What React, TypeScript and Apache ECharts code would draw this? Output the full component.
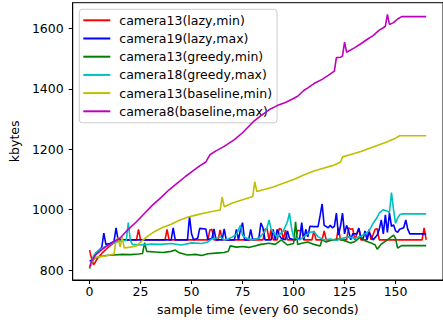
import { useEffect, useRef } from "react";
import * as echarts from "echarts";

const xTicks = [0, 25, 50, 75, 100, 125, 150];
const yTicks = [800, 1000, 1200, 1400, 1600];

const seriesNames = [
  "camera13(lazy,min)",
  "camera19(lazy,max)",
  "camera13(greedy,min)",
  "camera18(greedy,max)",
  "camera13(baseline,min)",
  "camera8(baseline,max)",
];
const seriesColors = ["#ff0000", "#0000ff", "#008000", "#00bfbf", "#bfbf00", "#bf00bf"];

const lazyMin = [
  [0, 866], [1, 838], [2, 817], [4, 840], [6, 855], [8, 868], [10, 880], [12, 890], [14, 897], [16, 900],
  [23, 900], [24, 935], [25, 900], [37, 900], [38, 935], [39, 900], [58, 900], [59, 933], [60, 935], [61, 900],
  [63, 900], [64, 933], [65, 900], [85, 900], [86, 935], [87, 937], [88, 900], [89, 935], [90, 900], [92, 900],
  [93, 938], [94, 935], [95, 900], [96, 932], [97, 900], [101, 900], [102, 932], [103, 930], [104, 935], [105, 900],
  [109, 900], [110, 930], [111, 900], [114, 900], [115, 930], [116, 900], [121, 900], [122, 940], [123, 900],
  [126, 900], [127, 940], [128, 935], [129, 937], [130, 900], [132, 938], [133, 900], [136, 900], [137, 935],
  [138, 900], [140, 935], [141, 937], [142, 900], [163, 900], [164, 940], [165, 900],
];

const lazyMax = [
  [0, 830], [1, 832], [2, 840], [3, 855], [5, 868], [6, 875], [7, 922], [8, 885], [10, 888], [12, 895], [13, 940],
  [14, 900], [40, 900], [41, 940], [42, 900], [48, 900], [49, 977], [50, 920], [51, 900], [53, 905], [54, 938],
  [57, 936], [58, 900], [60, 905], [61, 936], [62, 900], [65, 900], [66, 936], [67, 900], [71, 900], [72, 935],
  [73, 900], [74, 935], [75, 957], [76, 900], [78, 900], [79, 935], [80, 900], [83, 905], [84, 956], [85, 940],
  [86, 900], [89, 900], [90, 935], [91, 900], [92, 935], [93, 915], [94, 905], [96, 900], [97, 930], [98, 905],
  [100, 900], [103, 905], [104, 957], [105, 900], [106, 935], [107, 910], [108, 945], [110, 944], [112, 944],
  [113, 980], [114, 1019], [115, 948], [117, 940], [118, 948], [119, 940], [120, 945], [121, 989], [122, 916],
  [123, 945], [124, 989], [125, 920], [126, 948], [127, 930], [128, 900], [129, 920], [131, 920], [132, 939],
  [133, 910], [134, 900], [135, 930], [136, 900], [137, 925], [139, 900], [141, 916], [142, 935], [143, 966],
  [144, 920], [145, 983], [146, 925], [147, 989], [148, 945], [149, 950], [150, 930], [151, 925], [152, 935],
  [154, 940], [155, 966], [156, 935], [157, 920], [165, 920],
];

const greedyMin = [
  [0, 805], [1, 825], [2, 835], [3, 840], [5, 845], [8, 848], [12, 850], [16, 852], [20, 851], [24, 853],
  [26, 855], [27, 891], [28, 862], [32, 860], [36, 858], [40, 862], [42, 866], [44, 857], [48, 850], [52, 852],
  [55, 848], [58, 854], [62, 856], [66, 858], [68, 862], [69, 880], [72, 876], [75, 878], [78, 875], [81, 880],
  [84, 885], [88, 889], [91, 885], [94, 900], [97, 883], [100, 888], [101, 960], [102, 885], [104, 889],
  [107, 893], [110, 885], [113, 880], [114, 900], [116, 893], [119, 900], [122, 903], [125, 897], [128, 890],
  [130, 894], [133, 911], [135, 897], [138, 890], [140, 883], [141, 869], [143, 886], [146, 900], [149, 916],
  [150, 905], [151, 873], [153, 881], [165, 881],
];

const greedyMax = [
  [0, 805], [1, 830], [2, 848], [4, 862], [6, 872], [8, 878], [10, 884], [12, 890], [14, 895], [16, 897],
  [18, 898], [19, 957], [20, 898], [21, 885], [25, 883], [30, 886], [35, 885], [40, 888], [45, 883], [50, 890],
  [55, 888], [58, 893], [60, 903], [62, 905], [64, 910], [66, 900], [68, 903], [70, 910], [72, 918], [74, 949],
  [75, 915], [77, 905], [80, 900], [83, 905], [85, 920], [87, 940], [88, 966], [89, 935], [90, 925], [92, 910],
  [95, 930], [97, 960], [98, 989], [99, 940], [100, 910], [103, 900], [106, 915], [108, 925], [110, 927],
  [112, 910], [115, 900], [118, 903], [121, 898], [124, 905], [127, 910], [130, 905], [133, 912], [135, 920],
  [137, 930], [139, 955], [141, 975], [142, 989], [144, 1000], [146, 995], [147, 990], [148, 1057], [149, 1000],
  [150, 955], [151, 972], [152, 983], [153, 986], [165, 986],
];

const baselineMin = [
  [0, 805], [1, 825], [2, 838], [4, 843], [7, 846], [10, 850], [12, 853], [13, 900], [14, 906], [15, 877],
  [16, 909], [17, 873], [20, 876], [23, 880], [26, 898], [29, 915], [32, 928], [36, 942], [40, 952], [44, 965],
  [48, 975], [52, 982], [56, 988], [60, 994], [64, 999], [65, 1042], [66, 1010], [70, 1022], [75, 1033],
  [80, 1044], [81, 1093], [82, 1060], [86, 1068], [90, 1075], [95, 1088], [100, 1100], [105, 1115], [110, 1128],
  [115, 1138], [119, 1146], [123, 1157], [124, 1175], [128, 1183], [133, 1193], [138, 1205], [142, 1215],
  [146, 1225], [150, 1237], [152, 1245], [165, 1245],
];

const baselineMax = [
  [0, 808], [1, 830], [3, 850], [5, 862], [8, 878], [11, 890], [15, 906], [19, 935], [23, 960], [27, 988],
  [31, 1016], [35, 1040], [39, 1066], [43, 1088], [47, 1110], [51, 1130], [54, 1145], [57, 1158], [58, 1170],
  [59, 1182], [62, 1195], [66, 1210], [71, 1232], [75, 1255], [80, 1290], [84, 1312], [88, 1331], [92, 1345],
  [96, 1355], [99, 1365], [102, 1376], [105, 1395], [107, 1404], [110, 1418], [114, 1432], [117, 1445],
  [120, 1459], [121, 1504], [123, 1505], [124, 1510], [125, 1555], [126, 1522], [130, 1537], [133, 1550],
  [136, 1564], [139, 1577], [142, 1595], [144, 1603], [145, 1608], [146, 1647], [147, 1614], [149, 1620],
  [151, 1632], [153, 1640], [165, 1640],
];

const allData = [lazyMin, lazyMax, greedyMin, greedyMax, baselineMin, baselineMax];

const FONT = "DejaVu Sans";
const FS = 12.5;

export default function App() {
  const ref = useRef<HTMLDivElement>(null);
  useEffect(() => {
    const chart = echarts.init(ref.current!, null, { renderer: "svg" });
    chart.setOption({
      animation: false,
      backgroundColor: "#ffffff",
      grid: {
        left: 72.7,
        top: 2.7,
        width: 372.3,
        height: 277.3,
        show: true,
        borderColor: "#000000",
        borderWidth: 1,
        containLabel: false,
      },
      legend: {
        orient: "vertical",
        left: 79.3,
        top: 9.3,
        icon: "rect",
        itemWidth: 27,
        itemHeight: 2,
        itemGap: 3.2,
        padding: [3.5, 5, 4, 4],
        backgroundColor: "rgba(255,255,255,0.8)",
        borderColor: "#cccccc",
        borderWidth: 1,
        borderRadius: 3,
        textStyle: {
          fontFamily: FONT,
          fontSize: FS,
          color: "#000000",
          lineHeight: 15,
          padding: [0, 0, 0, 4],
        },
        data: seriesNames,
      },
      xAxis: {
        type: "value",
        min: -8.25,
        max: 173.25,
        name: "sample time (every 60 seconds)",
        nameLocation: "middle",
        nameGap: 22,
        nameTextStyle: { fontFamily: FONT, fontSize: FS, color: "#000000" },
        axisLine: { show: true, onZero: false, lineStyle: { color: "#000000", width: 1 } },
        axisTick: { show: true, length: 4, customValues: xTicks, lineStyle: { color: "#000000" } },
        axisLabel: {
          customValues: xTicks,
          margin: 5,
          fontFamily: FONT,
          fontSize: FS,
          color: "#000000",
          formatter: (v: number) => String(v),
        },
        splitLine: { show: false },
      },
      yAxis: {
        type: "value",
        min: 767,
        max: 1686,
        name: "kbytes",
        nameLocation: "middle",
        nameGap: 42,
        nameTextStyle: { fontFamily: FONT, fontSize: FS, color: "#000000" },
        axisLine: { show: true, onZero: false, lineStyle: { color: "#000000", width: 1 } },
        axisTick: { show: true, length: 4, customValues: yTicks, lineStyle: { color: "#000000" } },
        axisLabel: {
          customValues: yTicks,
          margin: 9,
          fontFamily: FONT,
          fontSize: FS,
          color: "#000000",
          formatter: (v: number) => String(v),
        },
        splitLine: { show: false },
      },
      series: allData.map((d, i) => ({
        type: "line",
        name: seriesNames[i],
        data: d,
        symbol: "none",
        z: 2 + i,
        lineStyle: { color: seriesColors[i], width: 1.6 },
        itemStyle: { color: seriesColors[i] },
      })),
    });
    return () => chart.dispose();
  }, []);
  return (
    <div
      ref={ref}
      style={{ position: "absolute", left: 0, top: 0, width: 443, height: 322 }}
    />
  );
}
